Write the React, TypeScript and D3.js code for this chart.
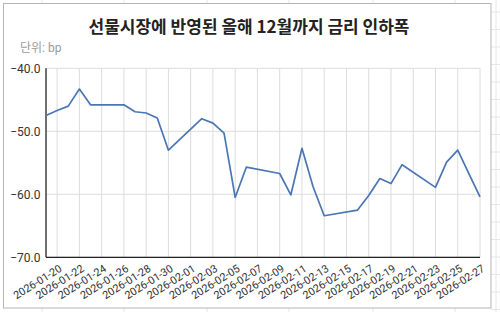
import React from "react";
import * as d3 from "d3";

const TITLE = "선물시장에 반영된 올해 12월까지 금리 인하폭";
const UNIT = "단위: bp";

const dates: string[] = [
  "2026-01-19", "2026-01-20", "2026-01-21", "2026-01-22", "2026-01-23",
  "2026-01-26", "2026-01-27", "2026-01-28", "2026-01-29", "2026-01-30",
  "2026-02-02", "2026-02-03", "2026-02-04", "2026-02-05", "2026-02-06",
  "2026-02-09", "2026-02-10", "2026-02-11", "2026-02-12", "2026-02-13",
  "2026-02-16", "2026-02-17", "2026-02-18", "2026-02-19", "2026-02-20",
  "2026-02-23", "2026-02-24", "2026-02-25", "2026-02-26", "2026-02-27",
];
const values: number[] = [
  -47.5, -46.7, -46.0, -43.3, -45.8,
  -45.8, -46.9, -47.1, -47.9, -53.0,
  -48.0, -48.7, -50.3, -60.5, -55.7,
  -56.7, -60.1, -52.7, -58.8, -63.4,
  -62.5, -60.2, -57.5, -58.3, -55.3,
  -58.9, -54.9, -53.0, -56.7, -60.4,
];
const xTickLabels: string[] = [
  "2026-01-20", "2026-01-22", "2026-01-24", "2026-01-26", "2026-01-28",
  "2026-01-30", "2026-02-01", "2026-02-03", "2026-02-05", "2026-02-07",
  "2026-02-09", "2026-02-11", "2026-02-13", "2026-02-15", "2026-02-17",
  "2026-02-19", "2026-02-21", "2026-02-23", "2026-02-25", "2026-02-27",
];
const yTicks: number[] = [-40, -50, -60, -70];
const xDomain: string[] = ["2026-01-19", "2026-02-27"];
const yDomain: number[] = [-70, -40];

const W = 500;
const H = 312;

export default function App() {
  const parse = d3.utcParse("%Y-%m-%d");
  const left = 46, right = 480, top = 68.3, bottom = 257.3;
  const x = d3.scaleUtc().domain(xDomain.map((d) => parse(d)!)).range([left, right]);
  const y = d3.scaleLinear().domain(yDomain).range([bottom, top]);
  const data = dates.map((d, i) => ({ date: parse(d)!, v: values[i] }));
  const line = d3
    .line<{ date: Date; v: number }>()
    .x((d) => x(d.date))
    .y((d) => y(d.v));
  const fmt = d3.format(".1f");

  const bgCols = [42, 124, 207, 289, 373, 455];
  const bgRows = d3.range(12, 312, 17.5);

  return (
    <svg
      width={W}
      height={H}
      style={{ position: "absolute", left: 0, top: 0, display: "block" }}
    >
      <rect x={0} y={0} width={W} height={H} fill="#fff" />
      {bgCols.map((c) => (
        <g key={"c" + c}>
          <line x1={c} x2={c} y1={0} y2={3} stroke="#e6e6e6" />
          <line x1={c} x2={c} y1={308} y2={312} stroke="#e6e6e6" />
        </g>
      ))}
      <line x1={496} x2={496} y1={0} y2={312} stroke="#e6e6e6" />
      {bgRows.map((r) => (
        <line key={"r" + r} x1={491} x2={500} y1={r} y2={r} stroke="#e6e6e6" />
      ))}
      <rect x={3.5} y={3.5} width={487.5} height={304.5} fill="#fff" stroke="#b5b5b5" />

      <text
        x={249}
        y={33}
        textAnchor="middle"
        fontFamily="'Noto Sans CJK KR', 'Noto Sans', sans-serif"
        fontWeight="bold"
        fontSize={17}
        fill="#222"
      >
        {TITLE}
      </text>
      <text
        x={20}
        y={51.5}
        fontFamily="Roboto, 'Noto Sans CJK KR', sans-serif"
        fontSize={12}
        fill="#9a9a9a"
      >
        {UNIT}
      </text>

      {yTicks.map((t) => (
        <line key={"gy" + t} x1={left} x2={right} y1={y(t)} y2={y(t)} stroke="#dcdcdc" strokeWidth={1} />
      ))}
      {xTickLabels.map((t) => (
        <line
          key={"gx" + t}
          x1={x(parse(t)!)}
          x2={x(parse(t)!)}
          y1={top}
          y2={bottom}
          stroke="#dcdcdc"
          strokeWidth={1}
        />
      ))}

      <line x1={left} x2={left} y1={top} y2={bottom} stroke="#222" strokeWidth={1.3} />
      <line x1={left} x2={right} y1={bottom} y2={bottom} stroke="#222" strokeWidth={1.3} />

      {yTicks.map((t) => (
        <text
          key={"ty" + t}
          x={40.5}
          y={y(t)}
          dy="0.35em"
          textAnchor="end"
          fontFamily="Roboto, sans-serif"
          fontSize={12}
          fill="#333"
        >
          {fmt(t)}
        </text>
      ))}
      {xTickLabels.map((t) => {
        const px = x(parse(t)!);
        return (
          <text
            key={"tx" + t}
            transform={`translate(${px + 3.5},${bottom + 10}) rotate(-32)`}
            textAnchor="end"
            dy="0.35em"
            fontFamily="Roboto, sans-serif"
            fontSize={10.8}
            fill="#333"
          >
            {t}
          </text>
        );
      })}

      <path d={line(data) || ""} fill="none" stroke="#4a76b5" strokeWidth={1.7} strokeLinejoin="round" />
    </svg>
  );
}
